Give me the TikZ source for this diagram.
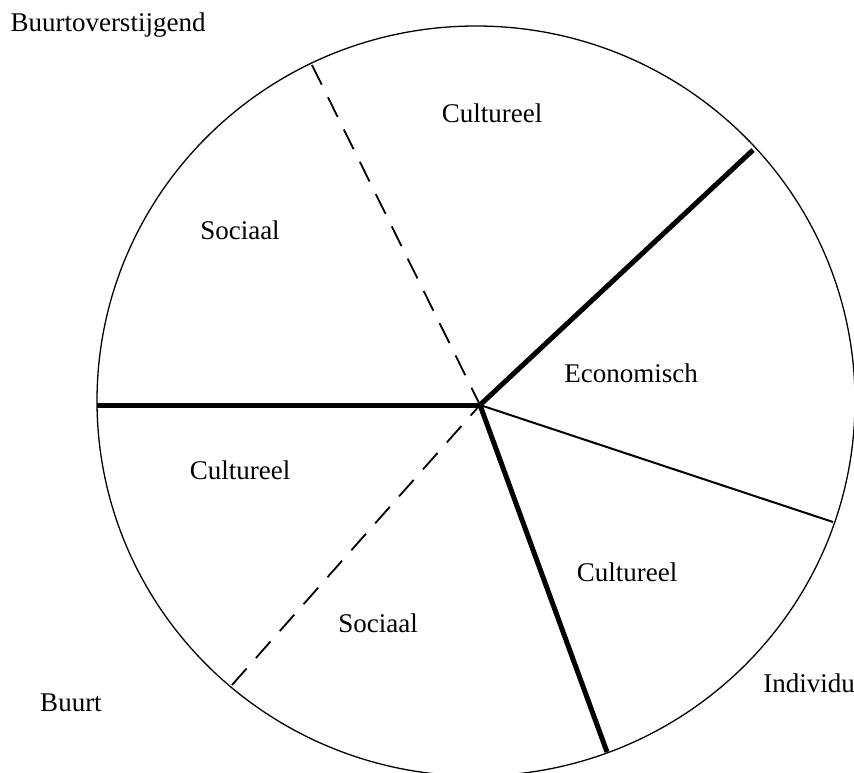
\documentclass[tikz,border=0pt]{standalone}
\usepackage{fontspec}
\setmainfont{Liberation Serif}
\begin{document}
\begin{tikzpicture}[x=1pt,y=-1pt,
  lbl/.style={font=\fontsize{27}{31}\selectfont, inner sep=0pt},
  thickline/.style={line width=5pt},
  thinline/.style={line width=2pt},
  dashline/.style={line width=1.8pt, dash pattern=on 22pt off 14pt},
  rim/.style={line width=1.3pt}]
\useasboundingbox (0,0) rectangle (854,773);
\clip (0,0) rectangle (854,773);
\draw[rim] (476,401) ellipse [x radius=379, y radius=375];
\coordinate (hub) at (480,405);
\coordinate (eL) at (97,405);
\coordinate (eUR) at (753,150);
\coordinate (eR) at (833,522);
\coordinate (eB) at (607,752);
\coordinate (eLL) at (232,685);
\coordinate (eU) at (312,65);
\draw[thickline] (hub) -- (eL);
\draw[thickline] (hub) -- (eUR);
\draw[thickline] (hub) -- (eB);
\draw[thinline] (hub) -- (eR);
\draw[dashline] (eU) -- (hub);
\draw[dashline] (eLL) -- (hub);
\node[lbl] (t1) at (108,25) {Buurtoverstijgend};
\node[lbl] (t2) at (492,113) {Cultureel};
\node[lbl] (t3) at (240,230) {Sociaal};
\node[lbl] (t4) at (631,373) {Economisch};
\node[lbl] (t5) at (240,470) {Cultureel};
\node[lbl] (t6) at (378,623) {Sociaal};
\node[lbl] (t7) at (627,572) {Cultureel};
\node[lbl] (t8) at (809,683) {Individu};
\node[lbl] (t9) at (71,703) {Buurt};
\end{tikzpicture}
\end{document}
